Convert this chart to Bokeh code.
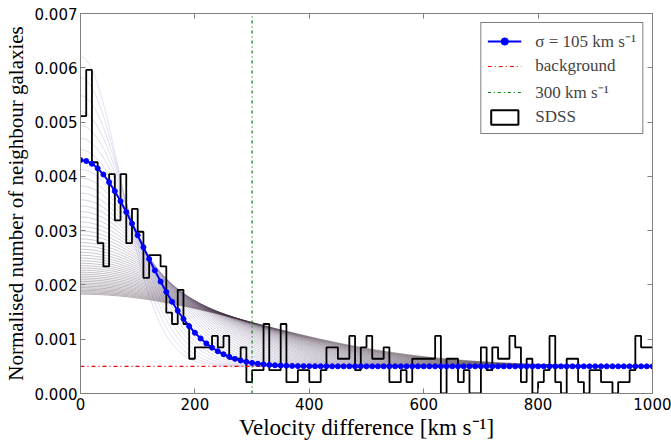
import numpy as np
from bokeh.plotting import figure
from bokeh.models import (Range1d, FixedTicker, PrintfTickFormatter, LinearAxis,
                          Legend, LegendItem, CustomJSTickFormatter, ColumnDataSource)
from bokeh.embed import file_html
from bokeh.resources import INLINE

# ---------------- data ----------------
bin_edges = list(range(0, 1001, 10))
sdss_density = [
    0.00511, 0.00596, 0.00426, 0.00277, 0.00234, 0.00404, 0.00319, 0.00404, 0.00277, 0.00340,
    0.00298, 0.00213, 0.00255, 0.00255, 0.00234, 0.00149, 0.00128, 0.00191, 0.00128, 0.00064,
    0.00085, 0.00085, 0.00085, 0.00106, 0.00085, 0.00106, 0.00064, 0.00064, 0.00085, 0.00021,
    0.00043, 0.00043, 0.00128, 0.00043, 0.00043, 0.00128, 0.00021, 0.00021, 0.00043, 0.00043,
    0.00021, 0.00021, 0.00043, 0.00085, 0.00085, 0.00064, 0.00064, 0.00106, 0.00043, 0.00085,
    0.00106, 0.00064, 0.00064, 0.00085, 0.00021, 0.00021, 0.00043, 0.00021, 0.00064, 0.00064,
    0.00064, 0.00064, 0.00106, 0.00000, 0.00064, 0.00064, 0.00021, 0.00043, 0.00000, 0.00000,
    0.00085, 0.00043, 0.00085, 0.00064, 0.00064, 0.00106, 0.00085, 0.00021, 0.00064, 0.00000,
    0.00021, 0.00043, 0.00106, 0.00021, 0.00000, 0.00064, 0.00064, 0.00021, 0.00000, 0.00043,
    0.00043, 0.00021, 0.00021, 0.00000, 0.00021, 0.00021, 0.00043, 0.00106, 0.00085, 0.00085,
]

fit_x = list(range(0, 1001, 10))
fit_y = [
    0.004300, 0.004283, 0.004232, 0.004148, 0.004034, 0.003893, 0.003728, 0.003543, 0.003343, 0.003132,
    0.002915, 0.002695, 0.002478, 0.002266, 0.002062, 0.001870, 0.001690, 0.001525, 0.001374, 0.001239,
    0.001119, 0.001014, 0.000923, 0.000845, 0.000779, 0.000723, 0.000677, 0.000639, 0.000609, 0.000584,
    0.000564, 0.000549, 0.000537, 0.000527, 0.000520, 0.000515, 0.000511, 0.000508, 0.000505, 0.000504,
    0.000503, 0.000502, 0.000501, 0.000501, 0.000500, 0.000500, 0.000500, 0.000500, 0.000500, 0.000500,
    0.000500, 0.000500, 0.000500, 0.000500, 0.000500, 0.000500, 0.000500, 0.000500, 0.000500, 0.000500,
    0.000500, 0.000500, 0.000500, 0.000500, 0.000500, 0.000500, 0.000500, 0.000500, 0.000500, 0.000500,
    0.000500, 0.000500, 0.000500, 0.000500, 0.000500, 0.000500, 0.000500, 0.000500, 0.000500, 0.000500,
    0.000500, 0.000500, 0.000500, 0.000500, 0.000500, 0.000500, 0.000500, 0.000500, 0.000500, 0.000500,
    0.000500, 0.000500, 0.000500, 0.000500, 0.000500, 0.000500, 0.000500, 0.000500, 0.000500, 0.000500,
    0.000500,
]

background = 0.0005
cut_velocity = 300

# family of model widths (km/s) drawn as the faint fan of curves
fan_sigmas = [70, 75, 80, 85, 90, 95, 100, 105, 110, 115, 120, 125, 130, 135, 140, 145,
              150, 155, 160, 165, 170, 175, 180, 185, 190, 195, 200, 205, 210, 215, 220,
              225, 230, 235, 240, 245, 250, 255, 260, 265, 270, 275, 280, 285, 290, 295, 300]
fan_signal_fraction = 0.5

x_ticks = [0, 200, 400, 600, 800, 1000]
y_ticks = [0.000, 0.001, 0.002, 0.003, 0.004, 0.005, 0.006, 0.007]

# ---------------- figure ----------------
p = figure(width=671, height=442, x_range=Range1d(0, 1000), y_range=Range1d(0, 0.007),
           output_backend="svg", toolbar_location=None,
           min_border_left=77, min_border_right=19, min_border_top=13, min_border_bottom=47)
p.grid.visible = False
p.outline_line_color = "#808080"
p.background_fill_color = "white"
p.border_fill_color = "white"

# fan of model curves
vx = np.linspace(0, 1000, 401)
xs, ys, cols = [], [], []
n = len(fan_sigmas)
c0 = np.array([185, 180, 225])
c1 = np.array([60, 40, 55])
for i, s in enumerate(fan_sigmas):
    amp = fan_signal_fraction / (s * np.sqrt(np.pi / 2.0))
    xs.append(vx)
    ys.append(background + amp * np.exp(-vx ** 2 / (2.0 * s ** 2)))
    t = i / (n - 1)
    c = (c0 * (1 - t) + c1 * t).astype(int)
    cols.append("#%02x%02x%02x" % tuple(c))
p.multi_line(xs=xs, ys=ys, line_color=cols, line_alpha=0.38, line_width=1)

# histogram
step_y = sdss_density + [sdss_density[-1]]
r_hist = p.step(x=bin_edges, y=step_y, mode="after", line_color="black", line_width=1.8)
proxy = ColumnDataSource(data=dict(l=[np.nan], r=[np.nan], t=[np.nan], b=[np.nan]))
r_hist_leg = p.quad(left="l", right="r", top="t", bottom="b", source=proxy,
                    fill_color="white", fill_alpha=0, line_color="black", line_width=2)

# fitted model line, background, cut, markers
r_fit_line = p.line(x=fit_x, y=fit_y, line_color="#0000ff", line_width=2)
r_bg = p.line(x=[0, 1000], y=[background, background], line_color="#ff0000",
              line_dash="4 3 1 3", line_width=1.2)
r_cut = p.line(x=[cut_velocity, cut_velocity], y=[0, 0.007], line_color="#007f00",
               line_dash="3 3 1 3", line_width=1.2)
r_fit_pts = p.scatter(x=fit_x, y=fit_y, size=5, fill_color="#0000ff", line_color="#0000ff")

# axes
tick_font = "DejaVu Sans"
for ax in (p.xaxis[0], p.yaxis[0]):
    ax.axis_line_color = "#808080"
    ax.major_tick_line_color = "#808080"
    ax.major_tick_in = 5
    ax.major_tick_out = 0
    ax.minor_tick_line_color = None
    ax.major_label_text_font = tick_font
    ax.major_label_text_font_size = "15px"
    ax.major_label_text_color = "black"
    ax.axis_label_text_font = "Liberation Serif"
    ax.axis_label_text_font_style = "normal"
    ax.axis_label_text_color = "black"

p.xaxis.axis_label_text_font_size = "23px"
p.yaxis.axis_label_text_font_size = "21px"
p.xaxis.ticker = FixedTicker(ticks=x_ticks)
p.yaxis.ticker = FixedTicker(ticks=y_ticks)
p.yaxis.formatter = PrintfTickFormatter(format="%.3f")
p.xaxis.axis_label = "Velocity difference [km s\u207b\u00b9]"
p.yaxis.axis_label = "Normalised number of neighbour galaxies"
p.xaxis.major_label_standoff = 4
p.yaxis.major_label_standoff = 3
p.xaxis.axis_label_standoff = 2
p.yaxis.axis_label_standoff = 4

blank = CustomJSTickFormatter(code="return ''")
top = LinearAxis(ticker=FixedTicker(ticks=x_ticks), formatter=blank,
                 axis_line_color="#808080", major_tick_line_color="#808080",
                 major_tick_in=5, major_tick_out=0, minor_tick_line_color=None,
                 major_label_standoff=0)
right = LinearAxis(ticker=FixedTicker(ticks=y_ticks), formatter=blank,
                   axis_line_color="#808080", major_tick_line_color="#808080",
                   major_tick_in=5, major_tick_out=0, minor_tick_line_color=None,
                   major_label_standoff=0)
p.add_layout(top, "above")
p.add_layout(right, "right")

legend = Legend(items=[
    LegendItem(label="\u03c3 = 105 km s\u207b\u00b9", renderers=[r_fit_line, r_fit_pts]),
    LegendItem(label="background", renderers=[r_bg]),
    LegendItem(label="300 km s\u207b\u00b9", renderers=[r_cut]),
    LegendItem(label="SDSS", renderers=[r_hist_leg]),
], location="top_right")
legend.label_text_font = "Liberation Serif"
legend.label_text_font_size = "17px"
legend.border_line_color = "black"
legend.border_line_width = 1
legend.background_fill_alpha = 1
legend.margin = 9
legend.padding = 6
legend.spacing = 4
legend.glyph_width = 34
legend.glyph_height = 18
legend.label_standoff = 14
p.add_layout(legend)

open("out.html", "w").write(file_html(p, INLINE))
